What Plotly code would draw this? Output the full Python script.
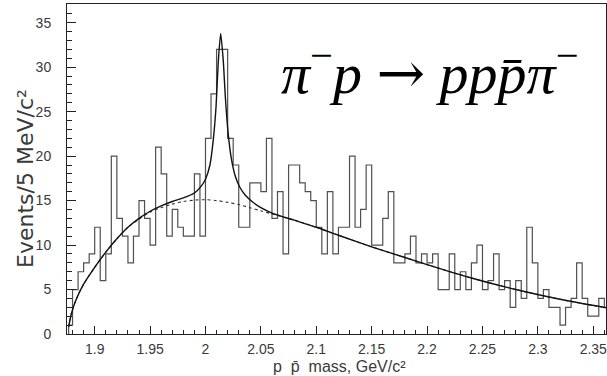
import plotly.graph_objects as go

# ---------------- data ----------------
BIN_START = 1.875      # first bin lower edge (GeV/c^2)
BIN_WIDTH = 0.005      # 5 MeV bins
THRESHOLD = 1.8765     # p pbar threshold, first bin starts here

COUNTS = [
    1, 5, 7, 8, 9,
    12, 6, 9, 20, 13, 11, 8, 11, 15, 13,
    10, 21, 18, 11, 14, 12, 11, 11, 18, 11,
    22, 27, 32, 32, 22, 19, 12, 12, 17, 17,
    16, 22, 13, 16, 9, 19, 19, 17, 16, 15,
    12, 9, 16, 9, 12, 12, 20, 12, 14, 19,
    10, 10, 13, 16, 8, 8, 9, 11, 8, 9,
    8, 9, 5, 5, 9, 5, 7, 5, 8, 10,
    5, 6, 9, 5, 6, 3, 6, 4, 12, 8,
    4, 5, 3, 3, 1, 3, 4, 8, 4, 2,
    2, 4, 3,
]

# background (dashed) curve
BG_X = [1.8765, 1.879, 1.883, 1.89, 1.90, 1.91, 1.92, 1.93, 1.94, 1.95,
        1.96, 1.97, 1.98, 1.99, 2.00, 2.01, 2.02, 2.03, 2.04, 2.05,
        2.06, 2.08, 2.10, 2.12, 2.15, 2.18, 2.20, 2.24, 2.28, 2.32, 2.3615]
BG_Y = [0.8, 2.3, 3.8, 5.6, 7.5, 9.2, 10.7, 12.0, 12.9, 13.7,
        14.2, 14.6, 14.9, 15.05, 15.1, 15.0, 14.8, 14.55, 14.2, 13.85,
        13.5, 12.8, 12.0, 11.1, 9.8, 8.6, 7.8, 6.3, 5.0, 3.9, 2.95]

# total fit (solid) curve
FIT_X = [1.8765, 1.879, 1.883, 1.89, 1.90, 1.91, 1.92, 1.93, 1.94, 1.95,
         1.96, 1.97, 1.98, 1.99, 1.996, 2.000, 2.004, 2.007, 2.0095, 2.0115,
         2.0137, 2.016, 2.018, 2.0205, 2.0235, 2.027, 2.031, 2.036, 2.042, 2.05,
         2.06, 2.08, 2.10, 2.12, 2.15, 2.18, 2.20, 2.24, 2.28, 2.32, 2.3615]
FIT_Y = [0.8, 2.3, 3.8, 5.6, 7.5, 9.2, 10.7, 12.0, 13.0, 13.8,
         14.4, 14.9, 15.3, 15.85, 16.6, 17.4, 19.0, 21.8, 25.5, 30.5,
         33.8, 30.8, 26.5, 22.5, 19.6, 17.7, 16.5, 15.6, 14.9, 14.2,
         13.6, 12.8, 12.0, 11.1, 9.8, 8.6, 7.8, 6.3, 5.0, 3.9, 2.95]

X_TICKS = [1.9, 1.95, 2.0, 2.05, 2.1, 2.15, 2.2, 2.25, 2.3, 2.35]
X_TICK_LABELS = ["1.9", "1.95", "2", "2.05", "2.1", "2.15", "2.2", "2.25", "2.3", "2.35"]
Y_TICKS = [0, 5, 10, 15, 20, 25, 30, 35]
Y_TICK_LABELS = ["0", "5", "10", "15", "20", "25", "30", "35"]

X_RANGE = [1.875, 2.3615]
Y_RANGE = [0, 37.1]

X_TITLE = "p\u00a0\u00a0p\u0304\u00a0\u00a0mass,\u00a0GeV/c\u00b2"
Y_TITLE = "Events/5 MeV/c\u00b2"
REACTION = ("<i>π</i><sup>−</sup><i>p</i> "
            "<span style='font-family:DejaVu Serif'>→</span>"
            " <i>pp</i><i>p̄</i><i>π</i><sup>−</sup>")

# ---------------- histogram as a step line ----------------
n = len(COUNTS)
step_x = [THRESHOLD, THRESHOLD] + [BIN_START + BIN_WIDTH * i for i in range(1, n)] + [BIN_START + BIN_WIDTH * n]
step_y = [0] + COUNTS + [COUNTS[-1]]

fig = go.Figure()
fig.add_trace(go.Scatter(x=step_x, y=step_y, mode="lines", line_shape="hv",
                         line=dict(color="#505050", width=1.2), showlegend=False,
                         hoverinfo="skip"))
fig.add_trace(go.Scatter(x=BG_X, y=BG_Y, mode="lines", line_shape="spline",
                         line=dict(color="#333333", width=1.1, dash="3px,3px", smoothing=0.8),
                         showlegend=False, hoverinfo="skip"))
fig.add_trace(go.Scatter(x=FIT_X, y=FIT_Y, mode="lines", line_shape="spline",
                         line=dict(color="#111111", width=1.4, smoothing=0.6),
                         showlegend=False, hoverinfo="skip"))

axis_common = dict(showline=True, mirror=True, linecolor="#222222", linewidth=1,
                   ticks="inside", tickcolor="#222222", showgrid=False, zeroline=False,
                   ticklabeloverflow="allow",
                   tickfont=dict(family="Liberation Sans, Arial, sans-serif", size=14, color="#3a3a3a"))

fig.update_xaxes(range=X_RANGE, tickmode="array", tickvals=X_TICKS, ticktext=X_TICK_LABELS,
                 ticklen=8, ticklabelstandoff=2,
                 minor=dict(ticks="inside", ticklen=4, tick0=1.9, dtick=0.01, tickcolor="#222222"),
                 **axis_common)
fig.update_yaxes(range=Y_RANGE, tickmode="array", tickvals=Y_TICKS, ticktext=Y_TICK_LABELS,
                 ticklen=9, ticklabelstandoff=12,
                 minor=dict(ticks="inside", ticklen=5, tick0=0, dtick=1, tickcolor="#222222"),
                 **axis_common)

# axis titles placed as annotations (positions like the reference)
fig.add_annotation(xref="paper", yref="paper", x=0.505, y=-0.131, xanchor="center", yanchor="bottom",
                   showarrow=False, text=X_TITLE,
                   font=dict(family="Liberation Sans, Arial, sans-serif", size=16, color="#3a3a3a"))
fig.add_annotation(xref="paper", yref="paper", x=-0.076, y=0.47, xanchor="center", yanchor="middle",
                   showarrow=False, text=Y_TITLE, textangle=-90,
                   font=dict(family="DejaVu Sans, sans-serif", size=22, color="#3a3a3a"))

fig.add_annotation(xref="paper", yref="paper", x=0.673, y=0.80, xanchor="center", yanchor="middle",
                   showarrow=False, text=REACTION,
                   font=dict(family="Liberation Serif, DejaVu Serif, serif", size=58, color="#000000"))

fig.update_layout(width=607, height=376, margin=dict(l=67, r=1, t=4, b=42),
                  plot_bgcolor="white", paper_bgcolor="white")

fig.write_html("out.html")
